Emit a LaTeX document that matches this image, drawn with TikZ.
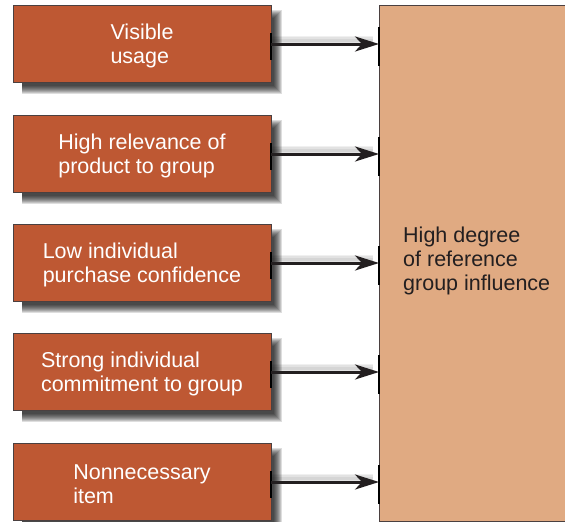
\documentclass[tikz,border=0pt]{standalone}
\usepackage{fontspec}
\setmainfont{Liberation Sans}
\usetikzlibrary{arrows.meta}
\definecolor{boxfill}{HTML}{BE5833}
\definecolor{bigfill}{HTML}{E0AA82}
\definecolor{edge}{HTML}{4A4040}
\definecolor{ink}{HTML}{231F20}
\tikzset{
  factor/.style={draw=edge, line width=1pt, fill=boxfill, minimum width=258pt, minimum height=77pt, inner sep=0pt},
  factortext/.style={text=white, font=\fontsize{21.5}{24}\selectfont, align=left},
  big/.style={draw=edge, line width=1pt, fill=bigfill},
  link/.style={draw=ink, line width=3pt, -{Stealth[length=24pt,width=15pt,inset=7pt]}},
  linkshadow/.style={draw=black, line width=\w pt, opacity=0.06},
  tick/.style={draw=black, line width=2.5pt},
  shade/.style={fill=black, opacity=0.13, draw=none}
}
\begin{document}
\begin{tikzpicture}[x=1pt,y=-1pt]
\useasboundingbox (0,0) rectangle (565,522);
% big box
\path[big] (379,5) rectangle (568,521);
\node[anchor=west, inner sep=0pt, text=ink, font=\fontsize{21.5}{24}\selectfont, align=left] (res) at (403,261)
  {High degree\\of reference\\group influence};
% factor boxes
\foreach \n/\y/\t in {a/44/{Visible\\usage},
                      b/154/{High relevance of\\product to group},
                      c/263/{Low individual\\purchase confidence},
                      d/372/{Strong individual\\commitment to group},
                      e/482/{Nonnecessary\\item}}{
  \foreach \k in {0,...,8}{
    \path[shade] (22,\y-38.5+12-\k) rectangle (271+3+\k,\y+38.5+3+\k);
  }
  \coordinate (\n s) at (271,\y);
  \coordinate (\n e) at (379,\y);
  \foreach \w in {3,6,9}{
    \draw[linkshadow] ([yshift=4pt]\n s) -- ([xshift=-6pt,yshift=4pt]\n e);
  }
  \node[factor] (\n) at (142,\y) {};
  \node[factortext] (\n t) at (142,\y+2) {\t};
  \draw[tick] ([yshift=11pt]\n s) -- ([yshift=-16pt]\n s);
  \draw[tick] ([yshift=17pt]\n e) -- ([yshift=-22pt]\n e);
  \draw[link] (\n s) -- (\n e);
}
\end{tikzpicture}
\end{document}
